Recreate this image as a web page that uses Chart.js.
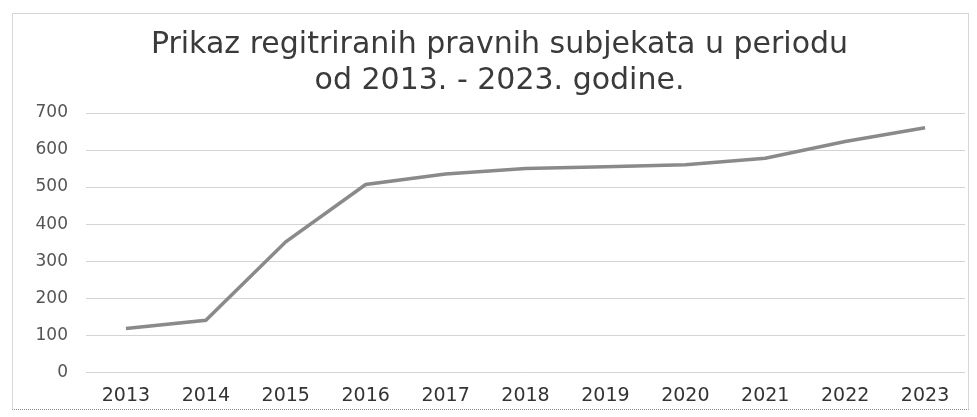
<!DOCTYPE html>
<html>
<head>
<meta charset="utf-8">
<script src="https://cdn.jsdelivr.net/npm/chart.js@4.4.1/dist/chart.umd.min.js"></script>
<style>
  html, body { margin: 0; padding: 0; background: #fff; }
  #frame {
    position: absolute; left: 12px; top: 13px; width: 955px; height: 395px;
    border: 1px solid #d6d6d6; border-bottom: 1px dotted #888;
  }
  #wrap { position: absolute; left: 0; top: 0; width: 977px; height: 417px; }
</style>
</head>
<body>
<div id="frame"></div>
<div id="wrap"><canvas id="chart" width="977" height="417"></canvas></div>
<script>
// godine i broj registriranih subjekata
const years = ['2013', '2014', '2015', '2016', '2017', '2018', '2019', '2020', '2021', '2022', '2023'];
const registered = [118, 140, 352, 507, 535, 550, 555, 560, 578, 623, 660];
const titleLines = ['Prikaz regitriranih pravnih subjekata u periodu', 'od 2013. - 2023. godine.'];

const ctx = document.getElementById('chart').getContext('2d');
new Chart(ctx, {
  type: 'line',
  data: {
    labels: years,
    datasets: [{
      label: 'Subjekti',
      data: registered,
      borderColor: '#8a8a8a',
      borderWidth: 3.5,
      pointRadius: 0,
      tension: 0,
      fill: false
    }]
  },
  options: {
    responsive: false,
    animation: false,
    layout: { padding: { left: 34, right: 12, top: 0, bottom: 6 } },
    plugins: {
      legend: { display: false },
      tooltip: { enabled: false },
      title: {
        display: true,
        text: titleLines,
        color: '#3a3a3a',
        font: { family: 'DejaVu Sans', size: 30, weight: 'normal', lineHeight: 1.2 },
        padding: { top: 27, bottom: 14 }
      }
    },
    scales: {
      x: {
        offset: true,
        grid: { display: false },
        border: { display: false },
        ticks: {
          color: '#333',
          padding: 4,
          font: { family: 'DejaVu Sans', size: 19 }
        }
      },
      y: {
        min: 0,
        max: 700,
        afterFit: (scale) => { scale.width = 52; },
        border: { display: false },
        grid: { color: '#d4d4d4', lineWidth: 1, drawTicks: false },
        ticks: {
          stepSize: 100,
          color: '#555',
          padding: 18,
          font: { family: 'DejaVu Sans', size: 17 }
        }
      }
    }
  }
});
</script>
</body>
</html>
